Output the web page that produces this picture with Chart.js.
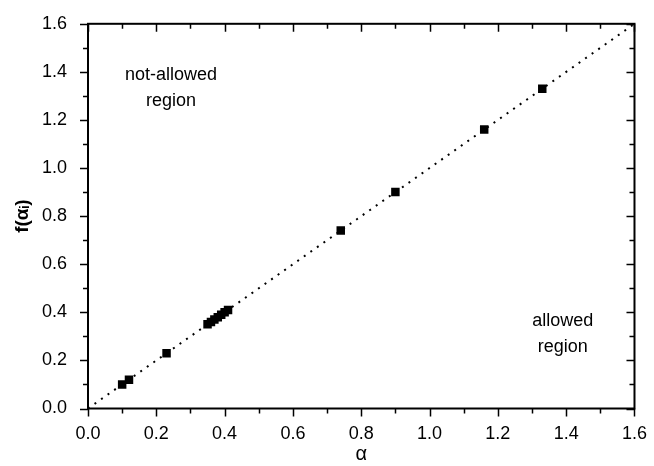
<!DOCTYPE html>
<html>
<head>
<meta charset="utf-8">
<script src="https://cdn.jsdelivr.net/npm/chart.js@4"></script>
<style>
  html, body { margin: 0; padding: 0; background: #fff; }
  #wrap { width: 654px; height: 466px; }
</style>
</head>
<body>
<div id="wrap"><canvas id="fChart" width="654" height="466"></canvas></div>
<script>
const alphaValues = [0.10, 0.12, 0.23, 0.35, 0.36, 0.37, 0.38, 0.39, 0.40, 0.41, 0.74, 0.90, 1.16, 1.33];
const fValues     = [0.10, 0.12, 0.23, 0.35, 0.36, 0.37, 0.38, 0.39, 0.40, 0.41, 0.74, 0.90, 1.16, 1.33];

// Dotted diagonal f = alpha
const lineX = [0, 1.6];
const lineY = [0, 1.6];

// Axis range and tick labels
const axisMin = 0;
const axisMax = 1.6;
const tickLabels = ['0.0', '0.2', '0.4', '0.6', '0.8', '1.0', '1.2', '1.4', '1.6'];

// Region notes (first line centred on x, y in data units)
const regionNotes = [
    { lines: ['not-allowed', 'region'], x: 0.243, y: 1.388 },
    { lines: ['allowed', 'region'], x: 1.39, y: 0.363 }
];

Chart.defaults.font.family = '"Liberation Sans", Arial, Helvetica, sans-serif';
Chart.defaults.color = '#000';

const points = alphaValues.map((a, i) => ({ x: a, y: fValues[i] }));
const diagonal = lineX.map((a, i) => ({ x: a, y: lineY[i] }));

// Only every other 0.1 step gets a label; the rest are minor ticks
function tickLabel(value) {
    const s = value.toFixed(1);
    return tickLabels.includes(s) ? s : '';
}

// Frame plus major/minor ticks: outward on left/bottom, inward on top/right
const frameTicks = {
    id: 'frameTicks',
    afterDatasetsDraw(chart) {
        const ctx = chart.ctx;
        const { left, right, top, bottom } = chart.chartArea;
        const xs = chart.scales.x;
        const ys = chart.scales.y;
        ctx.save();
        ctx.strokeStyle = '#000';
        ctx.lineWidth = 1.5;
        xs.ticks.forEach(t => {
            const px = Math.round(xs.getPixelForValue(t.value)) + 0.5;
            const len = tickLabel(t.value) ? 8 : 5;
            ctx.beginPath();
            ctx.moveTo(px, bottom); ctx.lineTo(px, bottom + len);
            ctx.moveTo(px, top); ctx.lineTo(px, top + len);
            ctx.stroke();
        });
        ys.ticks.forEach(t => {
            const py = Math.round(ys.getPixelForValue(t.value)) + 0.5;
            const len = tickLabel(t.value) ? 8 : 5;
            ctx.beginPath();
            ctx.moveTo(left, py); ctx.lineTo(left - len, py);
            ctx.moveTo(right, py); ctx.lineTo(right - len, py);
            ctx.stroke();
        });
        ctx.lineWidth = 2;
        ctx.strokeRect(left, top, right - left, bottom - top);

        // region notes
        ctx.fillStyle = '#000';
        ctx.font = '18px "Liberation Sans", Arial, sans-serif';
        ctx.textAlign = 'center';
        ctx.textBaseline = 'middle';
        regionNotes.forEach(n => {
            const cx = xs.getPixelForValue(n.x);
            const cy = ys.getPixelForValue(n.y);
            n.lines.forEach((txt, i) => ctx.fillText(txt, cx, cy + i * 26));
        });
        ctx.restore();
    }
};

const ctx = document.getElementById('fChart').getContext('2d');
new Chart(ctx, {
    type: 'scatter',
    data: {
        datasets: [
            {
                label: 'data',
                data: points,
                pointStyle: 'rect',
                pointRadius: 6,
                pointHoverRadius: 6,
                backgroundColor: '#000',
                borderColor: '#000',
                borderWidth: 0
            },
            {
                type: 'line',
                label: 'f = alpha',
                data: diagonal,
                borderColor: '#000',
                borderWidth: 2,
                borderDash: [2, 6],
                pointRadius: 0,
                fill: false
            }
        ]
    },
    options: {
        responsive: false,
        animation: false,
        devicePixelRatio: 1,
        layout: { padding: { top: 21, right: 18, left: 0, bottom: 0 } },
        plugins: {
            legend: { display: false },
            tooltip: { enabled: false }
        },
        scales: {
            x: {
                type: 'linear',
                min: axisMin,
                max: axisMax,
                grid: { display: false },
                border: { display: false },
                ticks: {
                    stepSize: 0.1,
                    autoSkip: false,
                    maxRotation: 0,
                    padding: 7,
                    font: { size: 18 },
                    callback: v => tickLabel(v)
                },
                title: {
                    display: true,
                    text: 'α',
                    font: { size: 20 },
                    padding: { top: 0, bottom: 0 }
                },
                afterFit: s => { s.height = 57.5; }
            },
            y: {
                type: 'linear',
                min: axisMin,
                max: axisMax,
                grid: { display: false },
                border: { display: false },
                ticks: {
                    stepSize: 0.1,
                    autoSkip: false,
                    padding: 13,
                    font: { size: 18 },
                    callback: v => tickLabel(v)
                },
                title: {
                    display: true,
                    text: 'f(αᵢ)',
                    font: { size: 19, weight: 'bold' },
                    padding: { top: 11, bottom: 0 }
                },
                afterFit: s => { s.width = 88; }
            }
        }
    },
    plugins: [frameTicks]
});
</script>
</body>
</html>
